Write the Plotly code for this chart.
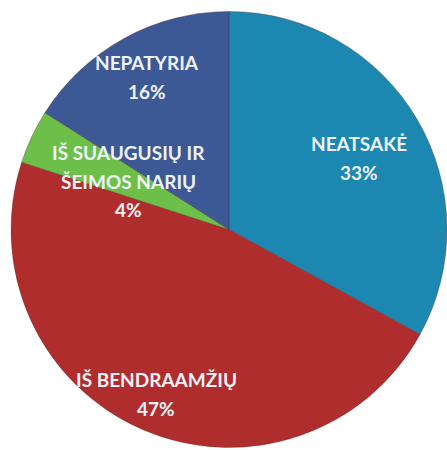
import plotly.graph_objects as go

labels = ["NEATSAKĖ", "IŠ BENDRAAMŽIŲ", "IŠ SUAUGUSIŲ IR ŠEIMOS NARIŲ", "NEPATYRIA"]
values = [33, 47, 4, 16]
colors = ["#1c87b0", "#b02d2e", "#6cc04a", "#3c5895"]

# label text lines (category lines + percentage)
label_lines = [
    ["NEATSAKĖ"],
    ["IŠ BENDRAAMŽIŲ"],
    ["IŠ SUAUGUSIŲ IR", "ŠEIMOS NARIŲ"],
    ["NEPATYRIA"],
]

W, H = 447, 450
# label centre positions (pixels from top-left) – styling only
label_px = [(359, 158), (156, 394), (128, 181), (147, 77)]
LINE_GAP = 28.5

fig = go.Figure(go.Pie(
    labels=labels,
    values=values,
    sort=False,
    direction="clockwise",
    rotation=0,
    marker=dict(colors=colors, line=dict(color="rgba(90,40,40,0.35)", width=1)),
    textinfo="none",
    hoverinfo="label+percent",
    showlegend=False,
    domain=dict(x=[11 / W, 1.0], y=[2.5 / H, 438.5 / H]),
))

total = sum(values)
annotations = []
for lines, v, (cx, cy) in zip(label_lines, values, label_px):
    all_lines = lines + [f"{round(100 * v / total)}%"]
    n = len(all_lines)
    for i, t in enumerate(all_lines):
        yy = cy + (i - (n - 1) / 2) * LINE_GAP
        annotations.append(dict(
            x=cx / W, y=1 - yy / H, xref="paper", yref="paper",
            text=t, showarrow=False, xanchor="center", yanchor="middle",
            font=dict(family="Lato", size=19, color="#eef2f7", weight="bold"),
        ))

fig.update_layout(
    width=W, height=H,
    margin=dict(l=0, r=0, t=0, b=0),
    paper_bgcolor="white",
    plot_bgcolor="white",
    annotations=annotations,
)

fig.write_html(
    "out.html",
    config={"displayModeBar": False},
    post_script="document.body.style.margin='0';document.body.style.overflow='hidden';",
)
